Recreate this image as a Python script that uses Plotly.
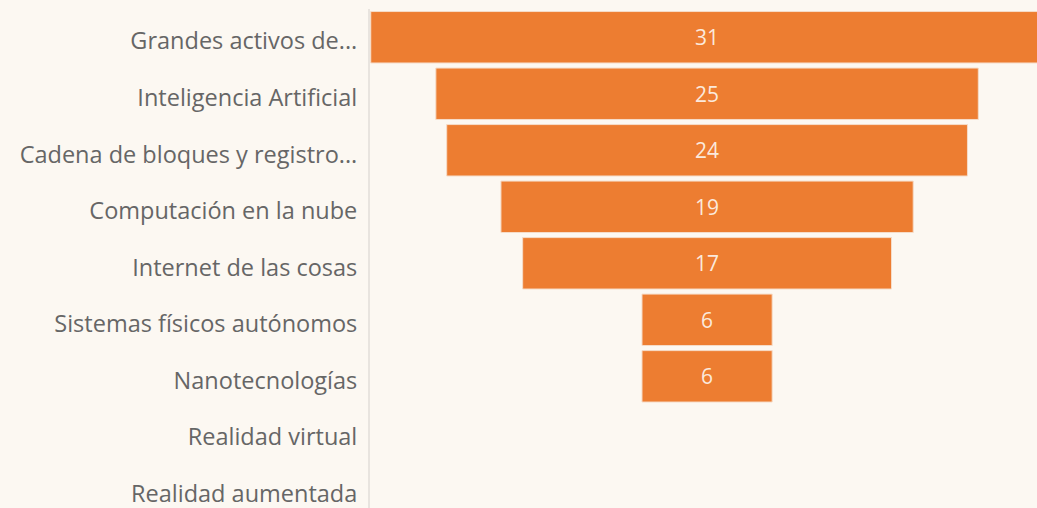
import plotly.graph_objects as go

categories = [
    "Grandes activos de...",
    "Inteligencia Artificial",
    "Cadena de bloques y registro...",
    "Computación en la nube",
    "Internet de las cosas",
    "Sistemas físicos autónomos",
    "Nanotecnologías",
    "Realidad virtual",
    "Realidad aumentada",
]
values = [31, 25, 24, 19, 17, 6, 6, 0, 0]

bar_color = "#ED7D31"
bg = "#FCF8F2"

labels = [str(v) if v else "" for v in values]
line_widths = [1 if v else 0 for v in values]

fig = go.Figure(
    go.Funnel(
        y=categories,
        x=values,
        text=labels,
        textinfo="text",
        textposition="inside",
        insidetextanchor="middle",
        constraintext="none",
        textfont=dict(family="Open Sans", size=21, color="#FBE9DC"),
        marker=dict(color=bar_color, line=dict(color="#F6DCC8", width=line_widths)),
        connector=dict(visible=False),
        width=0.91,
        hoverinfo="y+x",
    )
)

fig.update_layout(
    width=1037,
    height=508,
    paper_bgcolor=bg,
    plot_bgcolor=bg,
    margin=dict(l=370, r=0, t=9, b=0),
    showlegend=False,
    font=dict(family="Open Sans", size=23, color="#666666"),
)
fig.update_xaxes(
    range=[-15.535, 15.205],
    visible=False,
    showgrid=False,
    zeroline=False,
)
fig.update_yaxes(
    range=[8.33, -0.5],
    autorange=False,
    showgrid=False,
    zeroline=False,
    showline=True,
    linecolor="#E8E4DF",
    linewidth=2,
    ticks="outside",
    ticklen=6,
    tickcolor="rgba(0,0,0,0)",
    ticklabelshift=-4,
    tickfont=dict(family="Open Sans", size=23.5, color="#666666"),
)

fig.write_html(
    "out.html",
    config={"displayModeBar": False},
    post_script="document.body.style.margin='0';document.body.style.overflow='hidden';",
)
